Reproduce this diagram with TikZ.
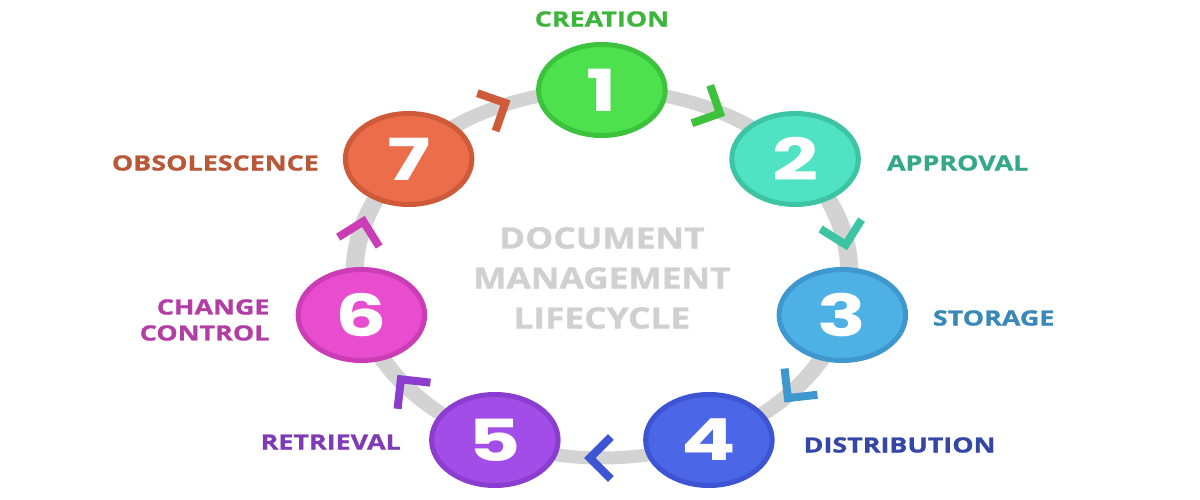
\documentclass[tikz,border=0pt]{standalone}
\usepackage{fontspec}
\setmainfont{Open Sans}
\newfontfamily\rotfont{Open Sans Bold}[FakeStretch=1.28, FakeBold=1.2]
\newfontfamily\titfont{Open Sans Bold}[FakeStretch=1.2, FakeBold=1.2]
\newfontfamily\numfont{Poppins}
\definecolor{anelcor}{HTML}{D3D3D3}
\definecolor{titcor}{HTML}{D0D0D0}
\definecolor{c1}{HTML}{4DE24D}\definecolor{c1d}{HTML}{3CC23C}\definecolor{t1}{HTML}{3DB53D}
\definecolor{c2}{HTML}{4FE3C4}\definecolor{c2d}{HTML}{3CC4A5}\definecolor{t2}{HTML}{36A88A}
\definecolor{c3}{HTML}{4DB1E6}\definecolor{c3d}{HTML}{3E98CE}\definecolor{t3}{HTML}{3A88B8}
\definecolor{c4}{HTML}{4B66E6}\definecolor{c4d}{HTML}{3D55D2}\definecolor{t4}{HTML}{3446A6}
\definecolor{c5}{HTML}{A24DE8}\definecolor{c5d}{HTML}{8A3DCF}\definecolor{t5}{HTML}{7E3BB5}
\definecolor{c6}{HTML}{E84CCF}\definecolor{c6d}{HTML}{CA3DB4}\definecolor{t6}{HTML}{B23DA5}
\definecolor{c7}{HTML}{EB6D4A}\definecolor{c7d}{HTML}{CF5A3A}\definecolor{t7}{HTML}{B85838}
\tikzset{seta/.pic={\draw[line width=8pt, line cap=butt, line join=miter](-9,21)--(12,0)--(-9,-21);}}
\begin{document}
\begin{tikzpicture}[xscale=1.39, x=1pt, y=1pt]
\tikzstyle{etapa}=[circle, minimum size=91pt, inner sep=0, line width=5pt, text=white, transform shape, font=\numfont\bfseries\fontsize{58}{58}\selectfont]
\tikzstyle{rotulo}=[inner sep=0, font=\rotfont\fontsize{21}{26}\selectfont]
\useasboundingbox(0,0)rectangle(863.31,500);
\coordinate(centro)at(433,226);
\fill[anelcor, even odd rule](centro)ellipse[x radius=184.5, y radius=190.5](centro)ellipse[x radius=171.5, y radius=177.5];
\node[rotulo, text=titcor, align=center, font=\titfont\fontsize{29.4}{40}\selectfont](titulo)at(433,222){DOCUMENT\\MANAGEMENT\\LIFECYCLE};
\pic[c1d, rotate=-25.7]at(510.2,391.8){seta};
\pic[c2d, rotate=-77.1]at(606.5,266.9){seta};
\pic[c3d, rotate=-128.6]at(572.2,111.3){seta};
\pic[c4d, rotate=180]at(433,42){seta};
\pic[c5d, rotate=128.6]at(293.8,111.3){seta};
\pic[c6d, rotate=77.1]at(259.5,266.9){seta};
\pic[c7d, rotate=25.7]at(355.8,391.8){seta};
\node[etapa, fill=c1, draw=c1d](n1)at(433,410){1};
\node[etapa, fill=c2, draw=c2d](n2)at(572,341){2};
\node[etapa, fill=c3, draw=c3d](n3)at(606,185){3};
\node[etapa, fill=c4, draw=c4d](n4)at(510,60){4};
\node[etapa, fill=c5, draw=c5d](n5)at(356,60){5};
\node[etapa, fill=c6, draw=c6d](n6)at(260,185){6};
\node[etapa, fill=c7, draw=c7d](n7)at(294,341){7};
\node[rotulo, text=t1](l1)at(433,481){CREATION};
\node[rotulo, text=t2, anchor=west](l2)at(638,337){APPROVAL};
\node[rotulo, text=t3, anchor=west](l3)at(671,182){STORAGE};
\node[rotulo, text=t4, anchor=west](l4)at(578,55){DISTRIBUTION};
\node[rotulo, text=t5, anchor=east](l5)at(288.5,58){RETRIEVAL};
\node[rotulo, text=t6, anchor=east, align=right](l6)at(194,180){CHANGE\\CONTROL};
\node[rotulo, text=t7, anchor=east](l7)at(229.5,337){OBSOLESCENCE};
\end{tikzpicture}
\end{document}
